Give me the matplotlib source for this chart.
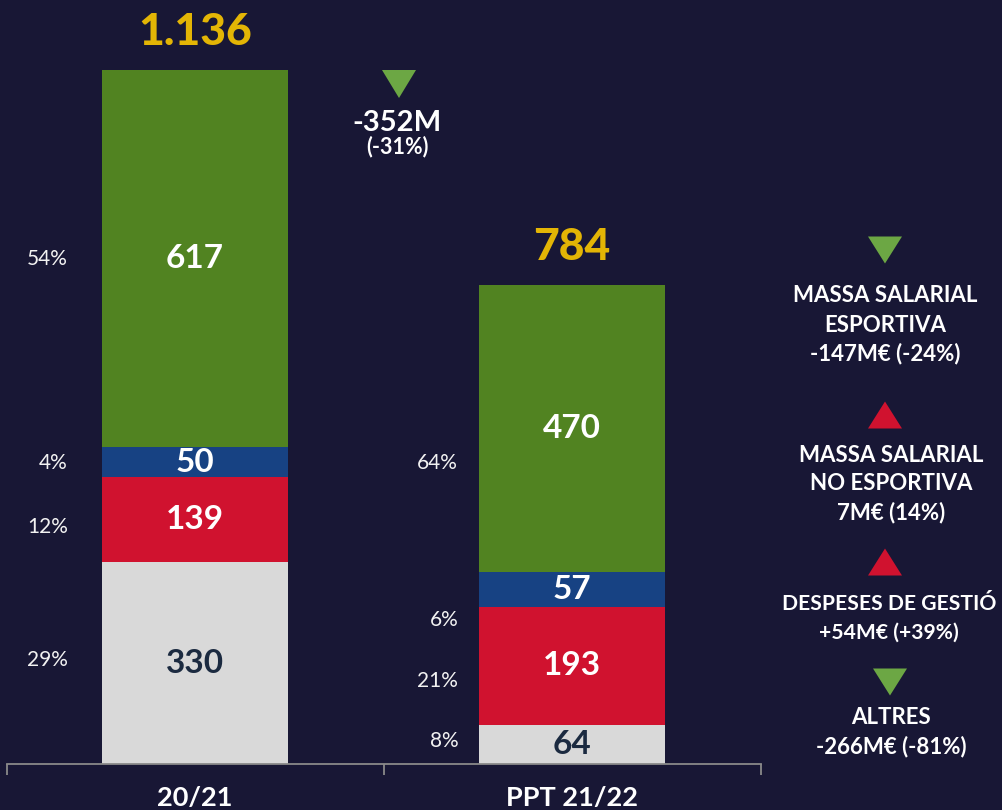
import matplotlib
matplotlib.use("Agg")
import matplotlib.pyplot as plt
import numpy as np

# ---- data ----
categories = ["20/21", "PPT 21/22"]
segments = ["Altres", "Despeses de gestió", "Massa salarial no esportiva", "Massa salarial esportiva"]
altres = [330, 64]
despeses = [139, 193]
no_esportiva = [50, 57]
esportiva = [617, 470]
totals_labels = ["1.136", "784"]
pct_labels_bar1 = ["29%", "12%", "4%", "54%"]
pct_labels_bar2 = ["8%", "21%", "6%", "64%"]
total_change_value = "-352M"
total_change_pct = "(-31%)"
change_dirs = ["down", "up", "up", "down"]
change_texts = [
    ["MASSA SALARIAL", "ESPORTIVA", "-147M€ (-24%)"],
    ["MASSA SALARIAL", "NO ESPORTIVA", "7M€ (14%)"],
    ["DESPESES DE GESTIÓ", "+54M€ (+39%)"],
    ["ALTRES", "-266M€ (-81%)"],
]

# ---- style ----
BG = "#181735"
C_GRAY = "#D9D9D9"
C_RED = "#D0122F"
C_BLUE = "#174283"
C_GREEN = "#518321"
C_YELLOW = "#E3B505"
C_TRI_GREEN = "#6CA744"
C_DARK = "#1B2A40"
FONT = "Lato"

W, H = 1002, 810
fig = plt.figure(figsize=(W / 100, H / 100), dpi=100, facecolor=BG)

ax_left, ax_right = 6.5, 760.5
ax_bottom_px = 764
ax = fig.add_axes([ax_left / W, (H - ax_bottom_px) / H, (ax_right - ax_left) / W, ax_bottom_px / H])
ax.set_facecolor(BG)
ax.set_xlim(-0.5, 1.5)
ax.set_ylim(0, 1250)

x = np.arange(len(categories))
bw = 0.493
series = [altres, despeses, no_esportiva, esportiva]
colors = [C_GRAY, C_RED, C_BLUE, C_GREEN]
txtcolors = [C_DARK, "white", "white", "white"]
bottom = np.zeros(len(categories))
centers = []
for vals, col, tc in zip(series, colors, txtcolors):
    vals = np.array(vals, dtype=float)
    ax.bar(x, vals, bw, bottom=bottom, color=col, edgecolor="none", zorder=2)
    c = bottom + vals / 2
    centers.append(c)
    for xi, ci, v in zip(x, c, vals):
        ax.text(xi, ci, f"{int(v)}", ha="center", va="center", color=tc,
                fontsize=24, fontweight="bold", family=FONT, zorder=3)
    bottom = bottom + vals

# totals
for xi, tot, lab in zip(x, bottom, totals_labels):
    ax.text(xi, tot + 62, lab, ha="center", va="center",
            color=C_YELLOW, fontsize=32, fontweight="black", family=FONT)

# percentage labels (left of bars)
pct_offsets = [[5, -11, -1, -2], [6, -25, -50, -56]]
pct_x = [-0.337, 0.698]
for bi, labs in enumerate([pct_labels_bar1, pct_labels_bar2]):
    for si, lab in enumerate(labs):
        ax.text(pct_x[bi], centers[si][bi] + pct_offsets[bi][si], lab, ha="right", va="center",
                color="#F2F2F2", fontsize=15, fontweight="normal", family=FONT)

# axis styling
for s in ["top", "right", "left"]:
    ax.spines[s].set_visible(False)
ax.spines["bottom"].set_color("#8A8A8A")
ax.spines["bottom"].set_linewidth(1.3)
ax.set_yticks([])
ax.set_xticks([-0.5, 0.5, 1.5])
ax.set_xticklabels([])
ax.tick_params(axis="x", colors="#8A8A8A", length=8, width=1.3, direction="out")

# overlay in pixel coordinates for annotations
ov = fig.add_axes([0, 0, 1, 1], facecolor="none")
ov.set_xlim(0, W)
ov.set_ylim(H, 0)
ov.axis("off")

# category labels (x from data coordinates, baseline near the bottom edge)
for xi, cat in zip(x, categories):
    px = ax.transData.transform((xi, 0))[0]
    ov.text(px, 806, cat, ha="center", va="baseline", color="white", fontsize=19.5,
            fontweight="bold", family=FONT)

def tri(cx, cy, direction, color, w=34, h=27):
    if direction == "down":
        pts = [(cx - w / 2, cy - h / 2), (cx + w / 2, cy - h / 2), (cx, cy + h / 2)]
    else:
        pts = [(cx - w / 2, cy + h / 2), (cx + w / 2, cy + h / 2), (cx, cy - h / 2)]
    ov.add_patch(plt.Polygon(pts, closed=True, color=color, lw=0))

# total change
tri(399, 84, "down", C_TRI_GREEN, w=34, h=28)
ov.text(397, 123, total_change_value, ha="center", va="center", color="white",
        fontsize=21, fontweight="bold", family=FONT)
ov.text(397, 147, total_change_pct, ha="center", va="center", color="white",
        fontsize=15.5, fontweight="bold", family=FONT)

# right side changes
tri_pos = [(885, 250), (885, 415), (885, 562), (890, 682)]
text_x = [885, 891, 889, 891]
text_y0 = [296, 455, 604, 718]
text_fs = [16, 16, 15.2, 16]
line_step = 29
for d, lines, (tx, ty), px, py, fs in zip(change_dirs, change_texts, tri_pos, text_x, text_y0, text_fs):
    tri(tx, ty, d, C_TRI_GREEN if d == "down" else C_RED)
    for li, line in enumerate(lines):
        ov.text(px, py + li * line_step, line, ha="center", va="center", color="white",
                fontsize=fs, fontweight="bold", family=FONT)

fig.savefig("out.png", dpi=100, facecolor=BG)
